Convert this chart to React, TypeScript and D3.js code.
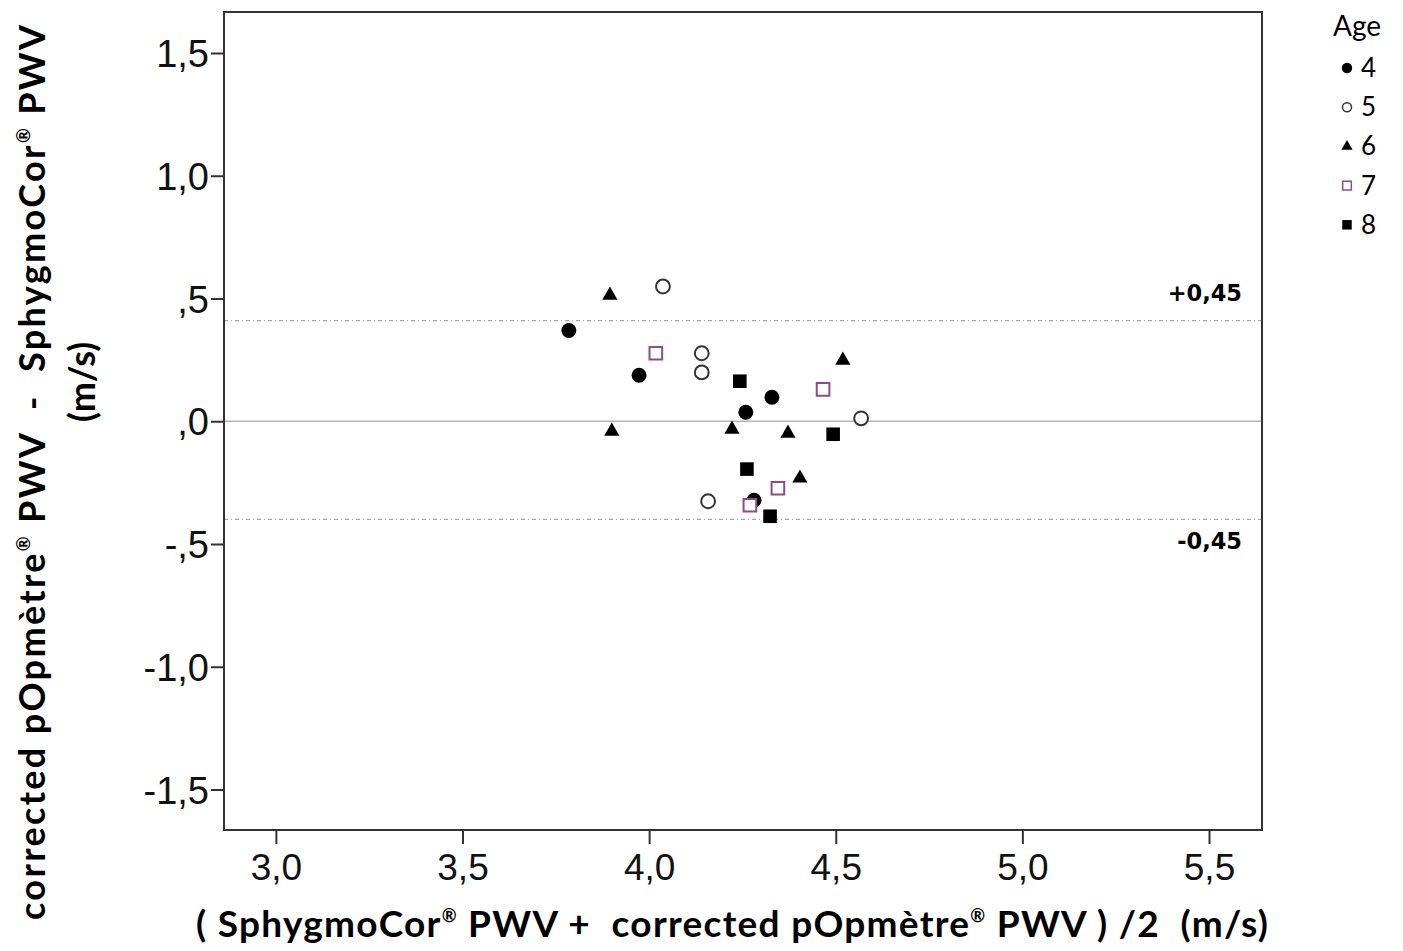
import React, { useEffect, useRef } from 'react';
import * as d3 from 'd3';

// Bland-Altman points, one array per age group [mean, difference]
const age4: [number, number][] = [
  [3.785, 0.37], [3.973, 0.187], [4.329, 0.098], [4.259, 0.037], [4.281, -0.322],
];
const age5: [number, number][] = [
  [4.037, 0.549], [4.141, 0.277], [4.141, 0.199], [4.568, 0.012], [4.158, -0.326],
];
const age6: [number, number][] = [
  [3.895, 0.513], [4.519, 0.248], [3.9, -0.041], [4.222, -0.033], [4.372, -0.049], [4.404, -0.232],
];
const age7: [number, number][] = [
  [4.018, 0.277], [4.466, 0.13], [4.345, -0.273], [4.27, -0.342],
];
const age8: [number, number][] = [
  [4.243, 0.163], [4.493, -0.053], [4.262, -0.195], [4.324, -0.387],
];

const xTicks = [3.0, 3.5, 4.0, 4.5, 5.0, 5.5];
const yTicks = [1.5, 1.0, 0.5, 0.0, -0.5, -1.0, -1.5];
const yTickLabels = ['1,5', '1,0', ',5', ',0', '-,5', '-1,0', '-1,5'];
const limitLines = [0.41, -0.4];
const limitLabels = ['+0,45', '-0,45'];
const legendAges = ['4', '5', '6', '7', '8'];

const W = 1403;
const H = 951;
const PURPLE = '#8e4a8e';

type Style = { shape: d3.SymbolType; fill: string; stroke: string; size: number; legendSize: number };
const styles: Style[] = [
  { shape: d3.symbolCircle, fill: '#000', stroke: 'none', size: 175, legendSize: 85 },
  { shape: d3.symbolCircle, fill: '#fff', stroke: '#333', size: 150, legendSize: 65 },
  { shape: d3.symbolTriangle, fill: '#000', stroke: 'none', size: 100, legendSize: 55 },
  { shape: d3.symbolSquare, fill: '#fff', stroke: PURPLE, size: 160, legendSize: 75 },
  { shape: d3.symbolSquare, fill: '#000', stroke: 'none', size: 185, legendSize: 90 },
];
const groups = [age4, age5, age6, age7, age8];

export default function App() {
  const svgRef = useRef<SVGSVGElement>(null);

  useEffect(() => {
    if (!svgRef.current) return;
    const svg = d3.select(svgRef.current);
    svg.selectAll('*').remove();

    const left = 224, right = 1262, top = 12, bottom = 830;
    const x = d3.scaleLinear().domain([2.861, 5.642]).range([left, right]);
    const y = d3.scaleLinear().domain([-1.665, 1.667]).range([bottom, top]);

    svg.append('rect').attr('width', W).attr('height', H).attr('fill', '#fff');

    // zero line
    svg.append('line')
      .attr('x1', left).attr('x2', right)
      .attr('y1', y(0)).attr('y2', y(0))
      .attr('stroke', '#b4b4b4').attr('stroke-width', 1.5);

    // limits of agreement
    limitLines.forEach((v) => {
      svg.append('line')
        .attr('x1', left).attr('x2', right)
        .attr('y1', y(v)).attr('y2', y(v))
        .attr('stroke', '#a8a8a8').attr('stroke-width', 1.3)
        .attr('stroke-dasharray', '4,3,1,3');
    });
    limitLabels.forEach((t, i) => {
      svg.append('text')
        .attr('x', 1242).attr('y', y(limitLines[i]) + (i === 0 ? -20 : 30))
        .attr('text-anchor', 'end')
        .style('font-family', 'DejaVu Sans')
        .style('font-weight', 'bold')
        .style('font-size', '22.5px')
        .text(t);
    });

    // frame
    svg.append('rect')
      .attr('x', left).attr('y', top)
      .attr('width', right - left).attr('height', bottom - top)
      .attr('fill', 'none').attr('stroke', '#333').attr('stroke-width', 2);

    // y axis
    const yAxis = d3.axisLeft(y).tickValues(yTicks)
      .tickSize(13).tickPadding(2)
      .tickFormat((_, i) => yTickLabels[i]);
    const gy = svg.append('g').attr('transform', `translate(${left},0)`).call(yAxis);
    gy.select('.domain').remove();
    gy.selectAll('line').attr('stroke', '#333').attr('stroke-width', 2);
    gy.selectAll('text')
      .attr('fill', '#111')
      .style('font-family', 'Liberation Sans')
      .style('font-size', '38px')
      .attr('dy', '0.36em');

    // x axis
    const xAxis = d3.axisBottom(x).tickValues(xTicks)
      .tickSize(14).tickPadding(10)
      .tickFormat((d) => d3.format('.1f')(d as number).replace('.', ','));
    const gx = svg.append('g').attr('transform', `translate(0,${bottom})`).call(xAxis);
    gx.select('.domain').remove();
    gx.selectAll('line').attr('stroke', '#333').attr('stroke-width', 2);
    gx.selectAll('text')
      .attr('fill', '#111')
      .style('font-family', 'Liberation Sans')
      .style('font-size', '37px');

    // points
    groups.forEach((pts, gi) => {
      const s = styles[gi];
      const sym = d3.symbol().type(s.shape).size(s.size);
      svg.append('g').selectAll('path')
        .data(pts)
        .join('path')
        .attr('transform', (d) => `translate(${x(d[0])},${y(d[1])})`)
        .attr('d', sym)
        .attr('fill', s.fill)
        .attr('stroke', s.stroke)
        .attr('stroke-width', 2);
    });

    // legend
    const lg = svg.append('g');
    lg.append('text')
      .attr('x', 1333).attr('y', 36)
      .style('font-family', 'Lato').style('font-size', '28px')
      .text('Age');
    legendAges.forEach((a, i) => {
      const cy = 68 + i * 39.2;
      const s = styles[i];
      lg.append('path')
        .attr('transform', `translate(1347,${cy})`)
        .attr('d', d3.symbol().type(s.shape).size(s.legendSize)())
        .attr('fill', s.fill)
        .attr('stroke', s.stroke)
        .attr('stroke-width', 1.5);
      lg.append('text')
        .attr('x', 1361).attr('y', cy + 9)
        .style('font-family', 'Lato').style('font-size', '26px')
        .text(a);
    });

    // axis titles
    const labelFont = (t: d3.Selection<SVGTextElement, unknown, null, undefined>) =>
      t.style('font-family', 'Lato').style('font-weight', 'bold').style('white-space', 'pre');

    const xt = svg.append('text')
      .attr('x', 196).attr('y', 937)
      .attr('textLength', 1072)
      .attr('lengthAdjust', 'spacing')
      .style('font-size', '37px')
      .call(labelFont);
    xt.append('tspan').text('( SphygmoCor');
    xt.append('tspan').attr('dy', -15).style('font-size', '18px').text('®');
    xt.append('tspan').attr('dy', 15).text(' PWV +  corrected pOpmètre');
    xt.append('tspan').attr('dy', -15).style('font-size', '18px').text('®');
    xt.append('tspan').attr('dy', 15).text(' PWV ) /2  (m/s)');

    const yt = svg.append('text')
      .attr('transform', 'translate(45,920) rotate(-90)')
      .attr('textLength', 895)
      .attr('lengthAdjust', 'spacing')
      .style('font-size', '36px')
      .call(labelFont);
    yt.append('tspan').text('corrected pOpmètre');
    yt.append('tspan').attr('dy', -15).style('font-size', '18px').text('®');
    yt.append('tspan').attr('dy', 15).text(' PWV  -  SphygmoCor');
    yt.append('tspan').attr('dy', -15).style('font-size', '18px').text('®');
    yt.append('tspan').attr('dy', 15).text(' PWV');

    svg.append('text')
      .attr('transform', 'translate(95,382) rotate(-90)')
      .attr('text-anchor', 'middle')
      .style('font-size', '36px')
      .call(labelFont)
      .text('(m/s)');
  }, []);

  return (
    <svg
      ref={svgRef}
      width={W}
      height={H}
      style={{ position: 'absolute', left: 0, top: 0 }}
      role="img"
      aria-label="Bland-Altman plot"
    />
  );
}
